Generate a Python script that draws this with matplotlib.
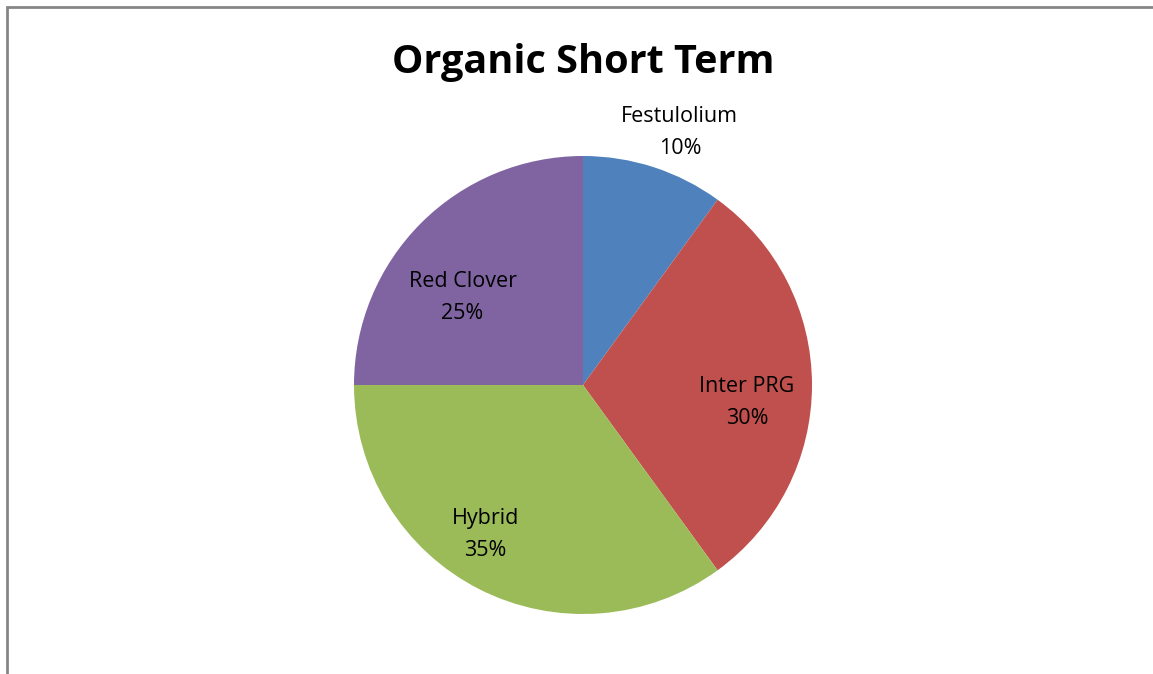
import numpy as np
import matplotlib.pyplot as plt
from matplotlib.patches import Rectangle

# Pie data
labels = ['Festulolium', 'Inter PRG', 'Hybrid', 'Red Clover']
shares = [10, 30, 35, 25]
colors = ['#4F81BD', '#C0504D', '#9BBB59', '#8064A2']

plt.rcParams['font.family'] = ['Open Sans', 'DejaVu Sans']

W, H = 1153, 674
fig = plt.figure(figsize=(W / 100, H / 100), dpi=100)

# gray chart border (only top/left visible)
fig.patches.append(Rectangle((7 / W, -0.1), 1.2, (H - 7) / H + 0.1,
                             transform=fig.transFigure, fill=False,
                             edgecolor='#868686', linewidth=2))

cx, cy, r = 583, 385, 229
ax = fig.add_axes([(cx - r) / W, (H - cy - r) / H, 2 * r / W, 2 * r / H])
wedges, _ = ax.pie(shares, colors=colors, startangle=90, counterclock=False,
                   radius=1, wedgeprops=dict(linewidth=0))
ax.set_xlim(-1, 1)
ax.set_ylim(-1, 1)
ax.set_aspect('auto')
ax.axis('off')

# label placement (radius, angle tweak in degrees)
lab_r = [1.18, 0.72, 0.78, 0.65]
lab_da = [-3, -6, -6, 9]
total = sum(shares)
start = 90
for lab, val, rr, da in zip(labels, shares, lab_r, lab_da):
    mid = start - 360 * val / total / 2
    start -= 360 * val / total
    a = np.deg2rad(mid + da)
    ax.text(rr * np.cos(a), rr * np.sin(a), f'{lab}\n{val}%',
            ha='center', va='center', fontsize=15.5, linespacing=1.7,
            color='black', clip_on=False)

fig.text(cx / W, 1 - 62 / H, 'Organic Short Term', ha='center', va='center',
         fontsize=28.5, fontweight='bold')

fig.savefig('out.png', dpi=100)
